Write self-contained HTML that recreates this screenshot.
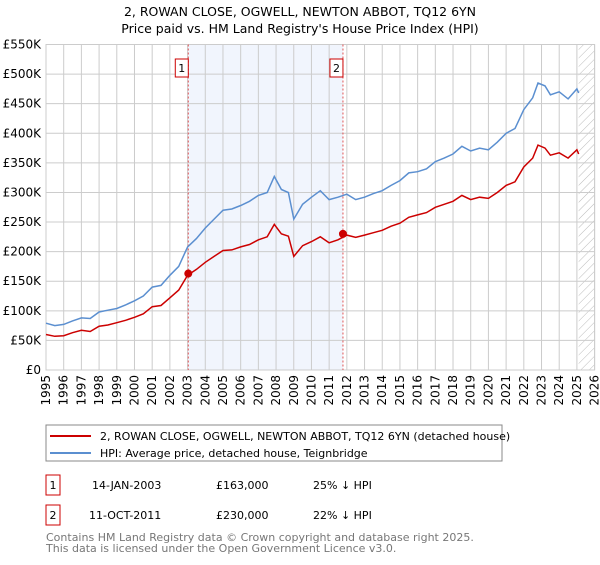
<!DOCTYPE html>
<html><head><meta charset="utf-8"><style>
body{margin:0;background:#fff;font-family:"Liberation Sans","DejaVu Sans",sans-serif;}
svg text{font-family:"DejaVu Sans","Liberation Sans",sans-serif;}
</style></head><body>
<svg width="600" height="560" xmlns="http://www.w3.org/2000/svg">
<defs><pattern id="hatch" width="6" height="6" patternUnits="userSpaceOnUse" patternTransform="rotate(45)"><line x1="0" y1="0" x2="0" y2="6" stroke="#bbb" stroke-width="1"/></pattern></defs>
<text x="300" y="16" text-anchor="middle" font-size="12.5" fill="#000">2, ROWAN CLOSE, OGWELL, NEWTON ABBOT, TQ12 6YN</text>
<text x="300" y="33" text-anchor="middle" font-size="12.5" fill="#000">Price paid vs. HM Land Registry's House Price Index (HPI)</text>
<g id="plot"></g>
<rect x="46" y="425" width="456" height="36" fill="#fff" stroke="#888"/>
<line x1="50" y1="436" x2="91" y2="436" stroke="#cc0000" stroke-width="2"/>
<text x="100" y="440" font-size="11">2, ROWAN CLOSE, OGWELL, NEWTON ABBOT, TQ12 6YN (detached house)</text>
<line x1="50" y1="453" x2="91" y2="453" stroke="#5b8fd0" stroke-width="2"/>
<text x="100" y="457" font-size="11">HPI: Average price, detached house, Teignbridge</text>
<rect x="46" y="475" width="14" height="20" fill="#fff" stroke="#cc0000"/>
<text x="53" y="489" text-anchor="middle" font-size="11">1</text>
<text x="92" y="489" font-size="11">14-JAN-2003</text>
<text x="216" y="489" font-size="11">£163,000</text>
<text x="313" y="489" font-size="11">25% ↓ HPI</text>
<rect x="46" y="505" width="14" height="20" fill="#fff" stroke="#cc0000"/>
<text x="53" y="519" text-anchor="middle" font-size="11">2</text>
<text x="89" y="519" font-size="11">11-OCT-2011</text>
<text x="216" y="519" font-size="11">£230,000</text>
<text x="313" y="519" font-size="11">22% ↓ HPI</text>
<text x="46" y="541" font-size="11" fill="#777">Contains HM Land Registry data © Crown copyright and database right 2025.</text>
<text x="46" y="552" font-size="11" fill="#777">This data is licensed under the Open Government Licence v3.0.</text>
</svg>
<script>
const hpiYears=[1995,1995.5,1996,1996.5,1997,1997.5,1998,1998.5,1999,1999.5,2000,2000.5,2001,2001.5,2002,2002.5,2003,2003.5,2004,2004.5,2005,2005.5,2006,2006.5,2007,2007.5,2007.9,2008.3,2008.7,2009,2009.5,2010,2010.5,2011,2011.5,2012,2012.5,2013,2013.5,2014,2014.5,2015,2015.5,2016,2016.5,2017,2017.5,2018,2018.5,2019,2019.5,2020,2020.5,2021,2021.5,2022,2022.5,2022.8,2023.2,2023.5,2024,2024.5,2025,2025.1];
const hpiValues=[79,75,77,83,88,87,98,101,104,110,117,125,140,143,160,175,208,222,240,255,270,272,278,285,295,300,327,305,300,255,280,292,303,288,292,297,288,292,298,303,312,320,333,335,340,352,358,365,378,370,375,372,385,400,408,440,460,485,480,465,470,458,475,468];
const priceValues=[60,57,58,63,67,65,74,76,80,84,89,95,107,109,122,135,160,170,182,192,202,203,208,212,220,225,246,230,226,192,210,217,225,215,220,228,224,228,232,236,243,248,258,262,266,275,280,285,295,288,292,290,300,312,318,343,358,380,375,363,367,358,372,365];
const saleYears=[2003.04,2011.78];
const saleValues=[163,230];
const saleLabels=["1","2"];
const yTicks=[0,50,100,150,200,250,300,350,400,450,500,550];
const yTickLabels=["£0","£50K","£100K","£150K","£200K","£250K","£300K","£350K","£400K","£450K","£500K","£550K"];
const xTicks=[1995,1996,1997,1998,1999,2000,2001,2002,2003,2004,2005,2006,2007,2008,2009,2010,2011,2012,2013,2014,2015,2016,2017,2018,2019,2020,2021,2022,2023,2024,2025,2026];
const X0=46,X1=594.6,Y0=370,Y1=44.5;
const xs=y=>X0+(y-1995)/(2026-1995)*(X1-X0);
const ys=v=>Y0-v/550*(Y0-Y1);
const NS="http://www.w3.org/2000/svg";
const g=document.getElementById('plot');
function mk(t,a){const e=document.createElementNS(NS,t);for(const k in a)e.setAttribute(k,a[k]);g.appendChild(e);return e;}
let e=mk('rect',{x:xs(saleYears[0]),y:Y1,width:xs(saleYears[1])-xs(saleYears[0]),height:Y0-Y1,fill:'#eef3fc',opacity:0.8});


e=mk('rect',{x:xs(2025.1),y:Y1,width:X1-xs(2025.1),height:Y0-Y1,fill:'url(#hatch)'});


yTicks.forEach((v,i)=>{
 let l=mk('line',{x1:X0,x2:X1,y1:ys(v),y2:ys(v),stroke:'#ccc'});
 
 
 let t=mk('text',{x:X0-5,y:ys(v)+4,'text-anchor':'end','font-size':'12'});t.textContent=yTickLabels[i];
 
 
});
xTicks.forEach(y=>{
 let l=mk('line',{x1:xs(y),x2:xs(y),y1:Y1,y2:Y0,stroke:'#ccc'});
 
 
 let t=mk('text',{x:0,y:0,'text-anchor':'end','font-size':'12',transform:`translate(${xs(y)+4},${Y0+5}) rotate(-90)`});t.textContent=y;
 
 
});
e=mk('rect',{x:X0,y:Y1,width:X1-X0,height:Y0-Y1,fill:'none',stroke:'#ccc'});


saleYears.forEach((y,i)=>{
 let l=mk('line',{x1:xs(y),x2:xs(y),y1:Y1,y2:Y0,stroke:'#e05555','stroke-dasharray':'2,2'});
 
 
 let r=mk('rect',{x:xs(y)-13,y:59,width:13,height:18,fill:'#fff',stroke:'#cc0000'});
 
 
 let t=mk('text',{x:xs(y)-6.5,y:72,'text-anchor':'middle','font-size':'11'});t.textContent=saleLabels[i];
 
 
});
function path(vals){return hpiYears.map((y,i)=>(i?'L':'M')+xs(y).toFixed(1)+','+ys(vals[i]).toFixed(1)).join('');}
e=mk('path',{d:path(hpiValues),fill:'none',stroke:'#5b8fd0','stroke-width':1.5});


e=mk('path',{d:path(priceValues),fill:'none',stroke:'#cc0000','stroke-width':1.5});


saleYears.forEach((y,i)=>{
 let c=mk('circle',{cx:xs(y),cy:ys(saleValues[i]),r:4,fill:'#cc0000'});
 
 
});
</script>
</body></html>
